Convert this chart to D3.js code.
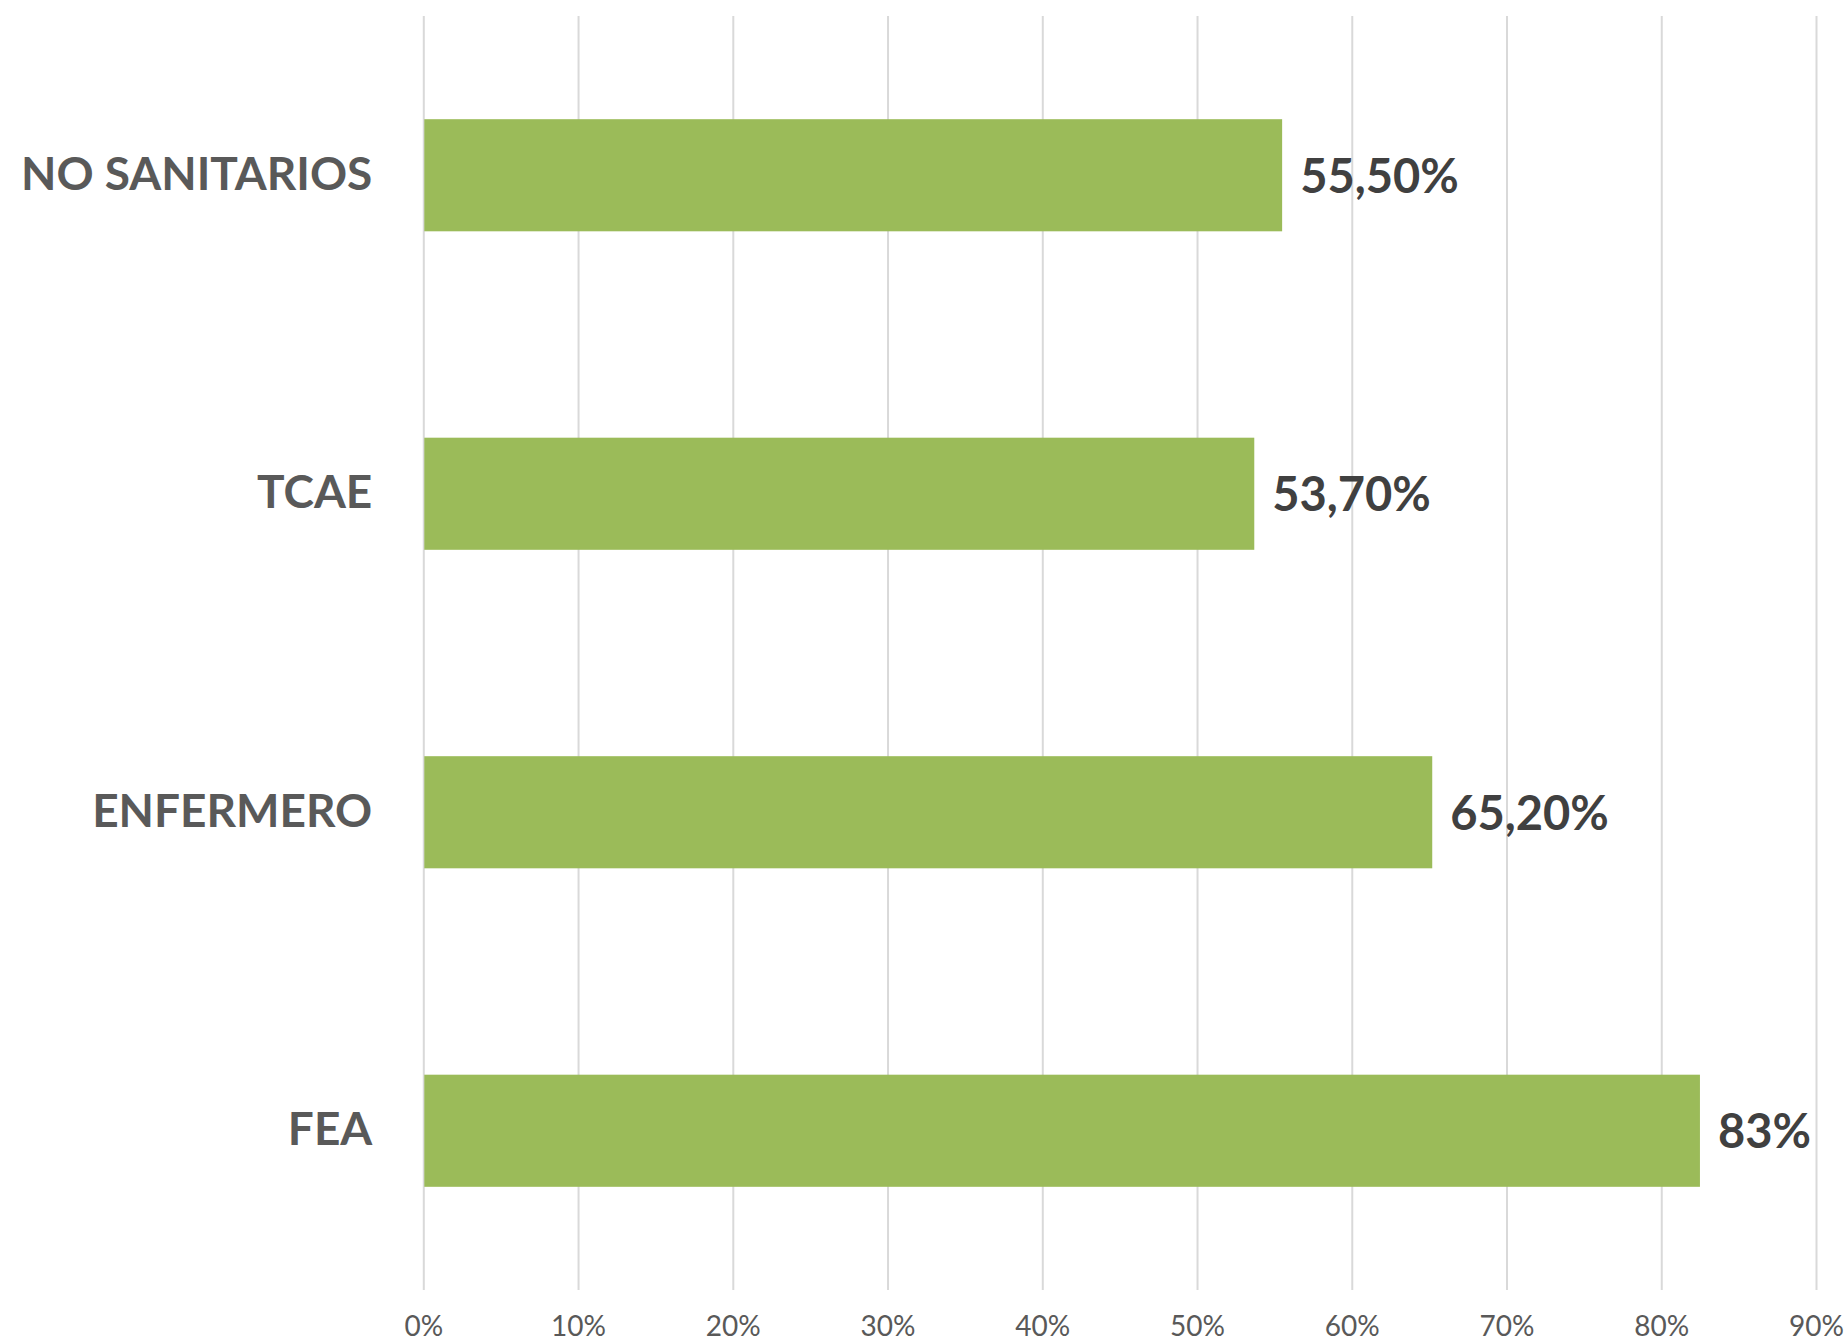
<!DOCTYPE html>
<html>
<head>
<meta charset="utf-8">
<script src="https://cdn.jsdelivr.net/npm/d3@7"></script>
<style>
  html, body { margin: 0; padding: 0; background: #ffffff; }
  svg { display: block; }
</style>
</head>
<body>
<svg id="chart" width="1845" height="1343"></svg>
<script>
const categories = ["NO SANITARIOS", "TCAE", "ENFERMERO", "FEA"];
const values = [55.5, 53.7, 65.2, 82.5];
const valueLabels = ["55,50%", "53,70%", "65,20%", "83%"];
const tickValues = [0, 10, 20, 30, 40, 50, 60, 70, 80, 90];

(function () {
const plotLeft = 423.3, plotRight = 1816, plotTop = 16, plotBottom = 1290;

const svg = d3.select("#chart");

const x = d3.scaleLinear().domain([0, 90]).range([plotLeft, plotRight]);
const y = d3.scaleBand().domain(categories).range([plotTop, plotBottom]).paddingInner(0.648).paddingOuter(0.324);

const axis = d3.axisBottom(x)
  .tickValues(tickValues)
  .tickFormat(d => d + "%")
  .tickSize(-(plotBottom - plotTop))
  .tickPadding(0);

const gAxis = svg.append("g")
  .attr("transform", `translate(0,${plotBottom})`)
  .call(axis);
gAxis.select(".domain").remove();
gAxis.selectAll(".tick line")
  .attr("stroke", "#d9d9d9")
  .attr("stroke-width", 2);
gAxis.selectAll(".tick text")
  .attr("y", 46)
  .attr("dy", null)
  .attr("fill", "#595959")
  .style("font-family", "Lato, 'Open Sans', sans-serif")
  .style("font-size", "28px");

svg.append("g").selectAll("rect")
  .data(categories)
  .join("rect")
  .attr("x", x(0) + 1)
  .attr("y", d => y(d))
  .attr("width", (d, i) => x(values[i]) - x(0) - 1)
  .attr("height", y.bandwidth())
  .attr("fill", "#9BBB59");

svg.append("g").selectAll("text")
  .data(categories)
  .join("text")
  .attr("x", x(0) - 51)
  .attr("y", d => y(d) + y.bandwidth() / 2)
  .attr("dy", "0.31em")
  .attr("text-anchor", "end")
  .attr("fill", "#595959")
  .style("font-family", "Lato, 'Open Sans', sans-serif")
  .style("font-weight", "bold")
  .style("font-size", "46px")
  .text(d => d);

svg.append("g").selectAll("text")
  .data(categories)
  .join("text")
  .attr("x", (d, i) => x(values[i]) + 18)
  .attr("y", d => y(d) + y.bandwidth() / 2)
  .attr("dy", "0.37em")
  .attr("fill", "#404040")
  .style("font-family", "Lato, 'Open Sans', sans-serif")
  .style("font-weight", "bold")
  .style("font-size", "47px")
  .text((d, i) => valueLabels[i]);
})();
</script>
</body>
</html>
